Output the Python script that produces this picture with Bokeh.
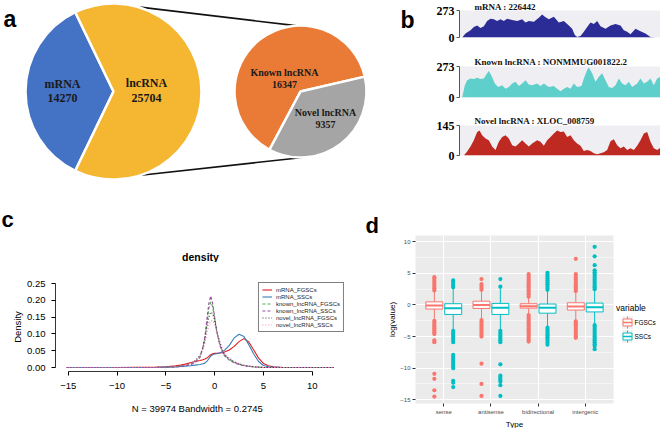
import math
from bokeh.plotting import figure
from bokeh.models import (ColumnDataSource, FixedTicker, Legend, LegendItem, Range1d, NumeralTickFormatter)
from bokeh.layouts import row, column
from bokeh.embed import file_html
from bokeh.resources import INLINE
from bokeh.core.properties import value

# ---------------- data ----------------
pie_main_labels = ["mRNA", "lncRNA"]
pie_main_counts = [14270, 25704]
pie_lnc_labels = ["Known lncRNA", "Novel lncRNA"]
pie_lnc_counts = [16347, 9357]

track_names = ["mRNA : 226442", "Known lncRNA :  NONMMUG001822.2", "Novel lncRNA : XLOC_008759"]
track_max = [273, 273, 145]
mrna_bin = [20, 30, 45, 55, 65, 75, 85, 95, 105, 115, 125, 135, 145, 155, 170, 185, 200, 210, 220, 235,
            250, 260, 268, 280, 295, 310, 325, 340, 350, 358, 365, 375, 385, 395, 405, 415, 425, 435, 450, 465,
            480, 495, 505, 515, 525, 540, 555, 570, 585, 600, 615]
mrna_cov = [0, 41, 73, 105, 121, 95, 114, 168, 190, 184, 168, 184, 168, 190, 178, 168, 184, 152, 168, 159,
            200, 232, 210, 184, 210, 152, 168, 121, 89, 25, 6, 16, 57, 105, 152, 136, 168, 114, 89, 121,
            136, 121, 73, 57, 32, 89, 63, 41, 6, 0, 0]
known_bin = [20, 28, 35, 45, 55, 65, 75, 85, 95, 100, 108, 118, 128, 140, 150, 160, 170, 180, 190, 200,
             210, 220, 230, 245, 255, 265, 280, 295, 305, 315, 325, 335, 345, 355, 365, 378, 385, 395, 400, 410,
             420, 430, 440, 450, 460, 470, 480, 490, 500, 510, 520, 530, 545, 555, 565, 575, 585, 595, 605, 615]
known_cov = [0, 108, 153, 168, 162, 174, 162, 168, 213, 234, 192, 123, 93, 108, 78, 93, 123, 138, 102, 123,
             153, 114, 108, 123, 102, 123, 93, 102, 78, 54, 78, 93, 78, 123, 93, 102, 168, 243, 264, 213,
             138, 183, 213, 153, 93, 84, 108, 168, 123, 108, 138, 93, 123, 168, 123, 138, 168, 108, 168, 183]
novel_bin = [25, 35, 45, 55, 65, 72, 80, 90, 100, 110, 120, 130, 140, 150, 160, 170, 180, 190, 200, 210,
             220, 230, 245, 255, 265, 275, 285, 295, 305, 315, 325, 335, 345, 355, 365, 375, 385, 395, 405, 415,
             425, 435, 445, 455, 465, 475, 485, 495, 505, 515, 525, 535, 545, 555, 565, 575, 585, 595, 605, 615]
novel_cov = [0, 19, 43, 74, 113, 121, 98, 82, 74, 43, 27, 66, 90, 98, 82, 50, 43, 58, 74, 58,
             43, 58, 74, 66, 47, 74, 90, 106, 121, 113, 116, 90, 98, 74, 58, 47, 22, 27, 22, 11,
             6, 11, 16, 27, 69, 79, 50, 35, 43, 27, 35, 27, 47, 74, 106, 113, 66, 35, 27, 38]

dens_x = [-15.2, -10, -6, -5, -4, -3.5, -3, -2.5, -2, -1.5, -1.2, -1, -0.8, -0.6, -0.4, -0.2, 0, 0.2,
          0.5, 0.8, 1, 1.5, 2, 2.5, 3, 3.5, 4, 4.5, 5, 5.5, 6, 7, 12.2]
dens_mrna_fgsc = [0, 0, 0.001, 0.002, 0.005, 0.007, 0.010, 0.014, 0.018, 0.021, 0.023, 0.025, 0.028, 0.033,
                  0.038, 0.041, 0.042, 0.042, 0.043, 0.044, 0.046, 0.052, 0.063, 0.077, 0.086, 0.076, 0.052,
                  0.028, 0.012, 0.005, 0.002, 0, 0]
dens_mrna_ssc = [0, 0, 0, 0.001, 0.002, 0.003, 0.004, 0.005, 0.007, 0.009, 0.011, 0.013, 0.018, 0.026,
                 0.034, 0.038, 0.040, 0.041, 0.043, 0.047, 0.051, 0.066, 0.088, 0.099, 0.092, 0.068, 0.040,
                 0.018, 0.006, 0.002, 0.001, 0, 0]
dens_known_fgsc = [0, 0, 0, 0.001, 0.002, 0.004, 0.006, 0.010, 0.017, 0.033, 0.060, 0.088, 0.130, 0.175,
                   0.195, 0.180, 0.145, 0.110, 0.072, 0.048, 0.037, 0.024, 0.015, 0.010, 0.006, 0.004, 0.002,
                   0.001, 0, 0, 0, 0, 0]
dens_known_ssc = [0, 0, 0, 0.001, 0.002, 0.003, 0.005, 0.008, 0.014, 0.030, 0.060, 0.090, 0.140, 0.190,
                  0.213, 0.190, 0.150, 0.110, 0.070, 0.045, 0.035, 0.022, 0.014, 0.009, 0.005, 0.003, 0.002,
                  0.001, 0, 0, 0, 0, 0]
dens_novel_fgsc = [0, 0, 0, 0.001, 0.003, 0.005, 0.008, 0.012, 0.020, 0.036, 0.060, 0.085, 0.120, 0.150,
                   0.165, 0.160, 0.140, 0.110, 0.078, 0.052, 0.040, 0.026, 0.017, 0.011, 0.007, 0.004, 0.002,
                   0.001, 0, 0, 0, 0, 0]
dens_novel_ssc = [0, 0, 0, 0.001, 0.003, 0.005, 0.008, 0.012, 0.020, 0.034, 0.052, 0.072, 0.100, 0.125,
                  0.138, 0.140, 0.128, 0.105, 0.078, 0.055, 0.043, 0.028, 0.018, 0.012, 0.007, 0.004, 0.002,
                  0.001, 0, 0, 0, 0, 0]
dens_names = ["mRNA_FGSCs", "mRNA_SSCs", "known_lncRNA_FGSCs", "known_lncRNA_SSCs",
              "novel_lncRNA_FGSCs", "novel_lncRNA_SSCs"]
dens_n = 39974
dens_bw = 0.2745

box_types = ["sense", "antisense", "bidirectional", "intergenic"]
box_groups = ["FGSCs", "SSCs"]
fgsc_lo = [-2.4, -2.3, -1.5, -2.5]
fgsc_q1 = [-0.65, -0.55, -0.5, -0.8]
fgsc_med = [-0.1, 0.0, -0.2, -0.25]
fgsc_q3 = [0.5, 0.6, 0.2, 0.35]
fgsc_hi = [2.2, 2.3, 1.2, 2.1]
ssc_lo = [-4.0, -4.0, -3.5, -3.1]
ssc_q1 = [-1.5, -1.5, -1.3, -1.1]
ssc_med = [-0.5, -0.45, -0.45, -0.35]
ssc_q3 = [0.2, 0.25, 0.15, 0.3]
ssc_hi = [2.7, 2.8, 2.3, 2.4]
out_sense_fgsc = [2.3, 2.6, 2.9, 3.2, 3.5, 3.8, 4.1, 4.4, -2.5, -2.8, -3.1, -3.4, -3.7, -4.0, -4.3, -4.6,
                  -5.6, -5.9, -10.9, -11.7, -13.5, -14.5]
out_sense_ssc = [2.8, 3.1, 3.4, 3.7, 3.9, -4.1, -4.4, -4.7, -5.0, -5.3, -5.6, -5.9, -7.9, -8.2, -8.5, -8.8,
                 -9.1, -9.4, -9.7, -10.0, -12.0, -12.3, -13.0]
out_anti_fgsc = [2.4, 2.7, 3.0, 3.3, 4.1, -2.4, -2.7, -3.0, -3.3, -3.6, -3.9, -4.2, -4.5, -4.8, -5.0,
                 -9.3, -12.5, -14.4]
out_anti_ssc = [2.9, 4.1, -4.1, -4.4, -4.7, -5.0, -5.3, -5.6, -5.9, -9.4, -11.2, -11.5, -11.8, -12.1,
                -12.7, -14.4]
out_bidi_fgsc = [1.3, 1.6, 1.9, 2.2, 2.5, 2.8, 3.1, 3.4, 3.7, 4.0, 4.3, 4.6, 4.9, -1.6, -1.9, -2.2, -2.5,
                 -2.8, -3.1, -3.4, -3.7, -4.0, -4.3, -4.6, -4.9, -5.2, -5.5, -5.8]
out_bidi_ssc = [2.4, 2.7, 3.0, 3.3, 3.6, 3.9, 4.2, 4.5, 4.8, 5.1, -3.6, -3.9, -4.2, -4.5, -4.8, -5.1, -5.4,
                -5.7, -6.0, -6.3]
out_inter_fgsc = [2.2, 2.5, 2.8, 3.1, 3.4, 3.7, 4.0, 4.3, 4.6, 4.9, 7.3, -2.6, -2.9, -3.2, -3.5, -3.8,
                  -4.1, -4.4, -4.7, -5.0, -5.2]
out_inter_ssc = [2.5, 2.8, 3.1, 3.4, 3.7, 4.0, 4.3, 4.6, 4.9, 5.2, 5.5, 6.3, 7.7, 9.2, -3.2, -3.5, -3.8,
                 -4.1, -4.4, -4.7, -5.0, -5.3, -5.6, -5.9, -6.2, -6.5, -7.0]

# ---------------- layout ----------------
SERIF = "Liberation Serif"
SANS = "Liberation Sans"
TOP_H = 195
A_W = 415
B_W = 660 - A_W


def fig(**kw):
    return figure(output_backend="svg", toolbar_location=None, frame_align=False, **kw)


def blank(width, height, xr, yr):
    p = fig(width=width, height=height, x_range=xr, y_range=yr, x_axis_type=None, y_axis_type=None,
            min_border=0)
    p.outline_line_color = None
    p.grid.visible = False
    return p


# ---------------- panel a : pies ----------------
fa = blank(A_W, TOP_H, Range1d(0, 415), Range1d(8, 203))


def pie_angles(counts, offset):
    tot = sum(counts)
    s, e, acc = [], [], 0
    for c in counts:
        s.append(offset + 2 * math.pi * acc / tot)
        acc += c
        e.append(offset + 2 * math.pi * acc / tot)
    return s, e


BX, BY, BR = 113, 112, 88
SXc, SYc, SR = 300, 112, 66
bs, be = pie_angles(pie_main_counts, math.pi - math.pi * pie_main_counts[0] / sum(pie_main_counts))
ss, se = pie_angles(pie_lnc_counts, math.radians(13))

for a1, a2 in [(74, 94), (-72, -88)]:
    fa.segment(x0=BX + BR * math.cos(math.radians(a1)), y0=BY + BR * math.sin(math.radians(a1)),
               x1=SXc + SR * math.cos(math.radians(a2)), y1=SYc + SR * math.sin(math.radians(a2)),
               line_color="#111111", line_width=1.6)

fa.wedge(source=ColumnDataSource(dict(x=[BX] * 2, y=[BY] * 2, s=bs, e=be, c=["#4472C4", "#F5B632"])),
         x="x", y="y", radius=BR, start_angle="s", end_angle="e", fill_color="c",
         line_color="white", line_width=2.5)
fa.wedge(source=ColumnDataSource(dict(x=[SXc] * 2, y=[SYc] * 2, s=ss, e=se, c=["#E97B37", "#A5A5A5"])),
         x="x", y="y", radius=SR, start_angle="s", end_angle="e", fill_color="c",
         line_color="white", line_width=2.5)

txt = dict(text_font=value(SERIF), text_font_style="bold", text_align="center",
           text_baseline="middle", text_color="#1a1a1a")
fa.text(x=[62, 146], y=[120, 121], text=pie_main_labels, text_font_size="12px", **txt)
fa.text(x=[62, 146], y=[106, 106], text=[str(c) for c in pie_main_counts], text_font_size="12px", **txt)
fa.text(x=[284, 325], y=[131, 91], text=pie_lnc_labels, text_font_size="10px", **txt)
fa.text(x=[284, 325], y=[119, 79], text=[str(c) for c in pie_lnc_counts], text_font_size="10px", **txt)

fa.text(x=[3], y=[185], text=["a"], text_font=value(SANS), text_font_style="bold",
        text_font_size="23px", text_baseline="alphabetic", text_color="black")
fa.text(x=[414], y=[184], text=["b"], text_font=value(SANS), text_font_style="bold",
        text_font_size="23px", text_baseline="alphabetic", text_align="right", text_color="black")

# ---------------- panel b : coverage tracks ----------------
track_bins = [mrna_bin, known_bin, novel_bin]
track_covs = [mrna_cov, known_cov, novel_cov]
track_colors = ["#2C2C96", "#5FCFCB", "#BE2A22"]
track_geom = [(45, 8, 8), (60, 21, 8), (90, 20, 40)]
track_standoff = [-2, 0, 0]
tracks = []
for i in range(3):
    h, bt, bb = track_geom[i]
    p = fig(width=B_W, height=h, x_range=Range1d(12, 615), y_range=Range1d(0, track_max[i]),
            x_axis_type=None, min_border_left=44, min_border_right=0, min_border_top=bt, min_border_bottom=bb)
    p.varea(x=track_bins[i], y1=0, y2=track_covs[i], fill_color=track_colors[i])
    p.background_fill_color = "#EFEFF3"
    p.outline_line_color = None
    p.grid.visible = False
    ax = p.yaxis[0]
    ax.ticker = FixedTicker(ticks=[0, track_max[i]])
    ax.axis_line_color = "#555555"
    ax.major_tick_line_color = "#555555"
    ax.major_tick_out = 3
    ax.major_tick_in = 0
    ax.minor_tick_line_color = None
    ax.major_label_standoff = 2
    ax.major_label_text_font = SERIF
    ax.major_label_text_font_style = "bold"
    ax.major_label_text_font_size = "12px"
    ax.major_label_text_color = "black"
    p.title.text = track_names[i]
    p.title.align = "left"
    p.title.offset = 15
    p.title.standoff = track_standoff[i]
    p.title.text_font = SERIF
    p.title.text_font_style = "bold"
    p.title.text_font_size = "9px"
    p.title.text_color = "#111111"
    tracks.append(p)

# ---------------- bottom header (panel letters) ----------------
hdr = blank(660, 40, Range1d(0, 660), Range1d(235, 195))
hdr.text(x=[1], y=[219], text=["c"], text_font=value(SANS), text_font_style="bold",
         text_font_size="22px", text_baseline="alphabetic", text_color="black")
hdr.text(x=[365], y=[225], text=["d"], text_font=value(SANS), text_font_style="bold",
         text_font_size="22px", text_baseline="alphabetic", text_color="black")

# ---------------- panel c : density ----------------
C_W = 345
hc = blank(C_W, 27, Range1d(0, C_W), Range1d(262, 235))
hc.text(x=[200], y=[256], text=["density"], text_font=value(SANS), text_font_style="bold",
        text_font_size="10.5px", text_align="center", text_baseline="middle", text_color="black")

fc = fig(width=C_W, height=166, x_range=Range1d(-16.3, 13.3), y_range=Range1d(-0.0119, 0.253),
         min_border_left=55, min_border_right=1, min_border_top=20, min_border_bottom=57)
fc.outline_line_color = None
fc.grid.visible = False
dens_series = [dens_mrna_fgsc, dens_mrna_ssc, dens_known_fgsc, dens_known_ssc, dens_novel_fgsc, dens_novel_ssc]
dens_colors = ["#E41A1C", "#377EB8", "#4DAF4A", "#984EA3", "#333333", "#F781BF"]
dens_dash = ["solid", "solid", "3 2", "3 2", "1 2", "1 2"]
items = []
for name, ys, col, dash in zip(dens_names, dens_series, dens_colors, dens_dash):
    r = fc.line(dens_x, ys, line_color=col, line_width=1.1, line_dash=dash)
    items.append(LegendItem(label=name, renderers=[r]))
leg = Legend(items=items, location="top_right", margin=0, padding=3, spacing=0,
             label_text_font=SANS, label_text_font_size="6px", label_height=7, glyph_height=7,
             glyph_width=10, label_standoff=4, border_line_color="black", border_line_width=0.8,
             background_fill_color="white", background_fill_alpha=1, label_text_color="#222222")
fc.add_layout(leg)

xa = fc.xaxis[0]
xa.ticker = FixedTicker(ticks=[-15, -10, -5, 0, 5, 10])
xa.major_label_overrides = {-15: "\u221215", -10: "\u221210", -5: "\u22125", 0: "0", 5: "5", 10: "10"}
xa.bounds = (-15, 10)
xa.axis_label = "N = %d   Bandwidth = %s" % (dens_n, dens_bw)
xa.major_label_standoff = 7
xa.axis_label_standoff = 11
ya = fc.yaxis[0]
ya.ticker = FixedTicker(ticks=[0, 0.05, 0.1, 0.15, 0.2, 0.25])
ya.formatter = NumeralTickFormatter(format="0.00")
ya.bounds = (0, 0.25)
ya.axis_label = "Density"
ya.major_label_standoff = 6
ya.axis_label_standoff = 1
for ax in (xa, ya):
    ax.axis_line_color = "black"
    ax.axis_line_width = 0.8
    ax.major_tick_line_color = "black"
    ax.major_tick_out = 4
    ax.major_tick_in = 0
    ax.minor_tick_line_color = None
    ax.major_label_text_font = SANS
    ax.major_label_text_font_size = "9.5px"
    ax.major_label_text_color = "black"
    ax.axis_label_text_font = SANS
    ax.axis_label_text_font_size = "9.5px"
    ax.axis_label_text_font_style = "normal"
    ax.axis_label_text_color = "black"
ya.major_label_orientation = "horizontal"

# ---------------- panel d : boxplots ----------------
D_W = 615 - C_W
fd = fig(width=D_W, height=182, x_range=Range1d(0.4, 4.6), y_range=Range1d(-15.6, 11.0),
         min_border_left=70, min_border_right=2, min_border_top=0, min_border_bottom=12)
fd.background_fill_color = "#EBEBEB"
fd.outline_line_color = None
fd.yaxis[0].ticker = FixedTicker(ticks=[-15, -10, -5, 0, 5, 10], minor_ticks=[-12.5, -7.5, -2.5, 2.5, 7.5])
fd.xaxis[0].ticker = FixedTicker(ticks=[1, 2, 3, 4])
fd.xaxis[0].major_label_overrides = {i + 1: t for i, t in enumerate(box_types)}
fd.xgrid.grid_line_color = "white"
fd.xgrid.grid_line_width = 1.1
fd.ygrid.grid_line_color = "white"
fd.ygrid.grid_line_width = 1.1
fd.ygrid.minor_grid_line_color = "white"
fd.ygrid.minor_grid_line_width = 0.5
fd.yaxis[0].axis_label = "log(value)"
for ax in (fd.xaxis[0], fd.yaxis[0]):
    ax.axis_line_color = None
    ax.major_tick_line_color = "#333333"
    ax.major_tick_out = 3
    ax.major_tick_in = 0
    ax.minor_tick_line_color = None
    ax.major_label_standoff = 1
    ax.major_label_text_font = SANS
    ax.major_label_text_font_size = "6px"
    ax.major_label_text_color = "#4D4D4D"
    ax.axis_label_text_font = SANS
    ax.axis_label_text_font_size = "8px"
    ax.axis_label_text_font_style = "normal"
    ax.axis_label_text_color = "black"
    ax.axis_label_standoff = 0
fd.xaxis[0].major_label_standoff = 2

group_cols = ["#F8766D", "#00BFC4"]
OFF, BWID = 0.2, 0.36
stats = [(fgsc_lo, fgsc_q1, fgsc_med, fgsc_q3, fgsc_hi), (ssc_lo, ssc_q1, ssc_med, ssc_q3, ssc_hi)]
outs = [[out_sense_fgsc, out_anti_fgsc, out_bidi_fgsc, out_inter_fgsc],
        [out_sense_ssc, out_anti_ssc, out_bidi_ssc, out_inter_ssc]]
for g in range(2):
    col = group_cols[g]
    xs = [i + 1 + (OFF if g else -OFF) for i in range(4)]
    ox, oy = [], []
    for i in range(4):
        ox += [xs[i]] * len(outs[g][i])
        oy += outs[g][i]
    fd.scatter(ox, oy, size=4.2, fill_color=col, line_color=None, marker="circle")
    lo, q1, med, q3, hi = stats[g]
    fd.segment(x0=xs, y0=q3, x1=xs, y1=hi, line_color=col, line_width=1)
    fd.segment(x0=xs, y0=q1, x1=xs, y1=lo, line_color=col, line_width=1)
    fd.quad(left=[x - BWID / 2 for x in xs], right=[x + BWID / 2 for x in xs], bottom=q1, top=q3,
            fill_color="white", line_color=col, line_width=1)
    fd.segment(x0=[x - BWID / 2 for x in xs], y0=med, x1=[x + BWID / 2 for x in xs], y1=med,
               line_color=col, line_width=2)

fdf = blank(D_W, 11, Range1d(C_W, 615), Range1d(428, 417))
fdf.text(x=[514], y=[422.5], text=["Type"], text_font=value(SANS), text_font_size="8px",
         text_align="center", text_baseline="middle", text_color="black")

# legend panel for d
fl = blank(660 - 615, 193, Range1d(615, 660), Range1d(428, 235))
fl.text(x=[615.5], y=[307], text=["variable"], text_font=value(SANS), text_font_size="8.5px",
        text_baseline="middle", text_color="black")
key_y = [322, 336]
fl.rect(x=[627, 627], y=key_y, width=11, height=13, fill_color="#F2F2F2", line_color=None)
fl.segment(x0=[627, 627], y0=[y - 6 for y in key_y], x1=[627, 627], y1=[y + 6 for y in key_y],
           line_color=group_cols, line_width=1)
fl.rect(x=[627, 627], y=key_y, width=9, height=7, fill_color="white", line_color=group_cols, line_width=1)
fl.segment(x0=[622.5, 622.5], y0=key_y, x1=[631.5, 631.5], y1=key_y, line_color=group_cols, line_width=1.6)
fl.text(x=[634, 634], y=key_y, text=box_groups, text_font=value(SANS), text_font_size="6.5px",
        text_baseline="middle", text_color="black")

layout = column(row(fa, column(*tracks)),
                hdr,
                row(column(hc, fc), column(fd, fdf), fl))
open("out.html", "w").write(file_html(layout, INLINE))
